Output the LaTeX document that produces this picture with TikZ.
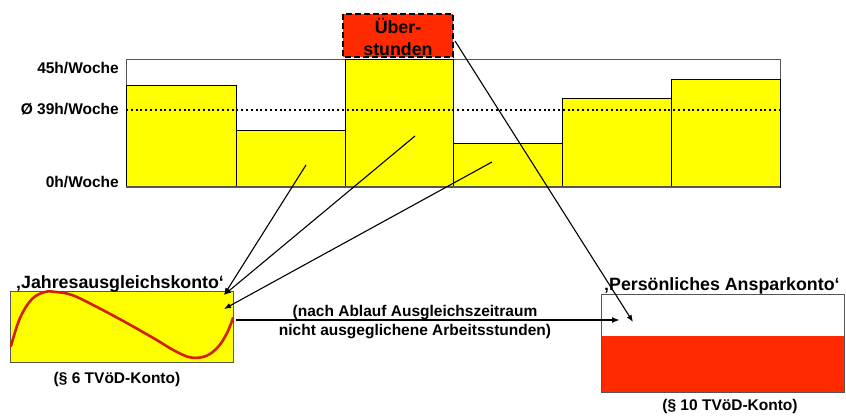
\documentclass[tikz,border=0pt]{standalone}
\usepackage{fontspec}
\setmainfont{Liberation Sans}
\usetikzlibrary{arrows.meta}
\definecolor{barY}{HTML}{FFFF00}
\definecolor{ueRed}{HTML}{FF2A00}
\definecolor{curveRed}{HTML}{D42000}
\definecolor{frameGray}{HTML}{555555}
\tikzset{
  lbl/.style={inner sep=0pt, font=\fontsize{15.5}{18}\selectfont\bfseries},
  biglbl/.style={inner sep=0pt, font=\fontsize{17.8}{21}\selectfont\bfseries},
  barbox/.style={fill=barY, draw=black, line width=0.8pt},
  conn/.style={line width=1.1pt, -{Latex[length=7pt,width=5.5pt]}},
  thickconn/.style={line width=1.8pt, -{Latex[length=8pt,width=6pt]}},
}
\begin{document}
\begin{tikzpicture}[x=1pt,y=-1pt]
\useasboundingbox[fill=white] (0,0) rectangle (846,415);
% chart frame
\draw[frameGray, line width=0.8pt] (126,59) rectangle (780,187);
% bars
\draw[barbox] (126,85) rectangle (236,187);
\draw[barbox] (236,130) rectangle (345,187);
\draw[barbox] (345,59) rectangle (453,187);
\draw[barbox] (453,143) rectangle (562,187);
\draw[barbox] (562,98) rectangle (671,187);
\draw[barbox] (671,79) rectangle (780,187);
\draw[frameGray, line width=1.2pt] (126,187) -- (780,187);
% average line
\draw[black, line width=2pt, dash pattern=on 2pt off 2.8pt] (126,109.5) -- (780,109.5);
% axis labels
\node[lbl, anchor=east] (l45) at (119,68) {45h/Woche};
\node[lbl, anchor=east] (l39) at (119,109) {Ø 39h/Woche};
\node[lbl, anchor=east] (l0) at (119,182) {0h/Woche};
% Ueberstunden box
\fill[ueRed] (343,14) rectangle (453,57);
\node[biglbl, anchor=base] (ue1) at (398,34) {Über-};
\node[biglbl, anchor=base] (ue2) at (398,55) {stunden};
\draw[black, line width=2pt, dash pattern=on 6pt off 3pt] (343,14) rectangle (453,57);
\coordinate (uestart) at (455,41);
% Jahresausgleichskonto
\node[fill=barY, draw=frameGray, line width=1pt, minimum width=223pt, minimum height=71pt, inner sep=0pt, anchor=north west] (jbox) at (10,291) {};
\draw[curveRed, line width=2.6pt, line cap=round] plot[smooth, tension=0.6] coordinates {
 (11,346) (20,318) (32,299) (45,292) (56,292) (72,295) (95,306) (125,322) (155,339) (175,351) (191,357.5) (206,356) (218,347) (227,333) (233,318)};
\node[biglbl, anchor=base west] (jlabel) at (16,288) {‚Jahresausgleichskonto‘};
\node[lbl, anchor=base] (jpar) at (117,383) {(§ 6 TVöD-Konto)};
% Persoenliches Ansparkonto
\node[fill=white, minimum width=243pt, minimum height=98pt, inner sep=0pt, anchor=north west] (pbox) at (601,294) {};
\fill[ueRed] (601,336) rectangle (844,392);
\draw[frameGray, line width=1pt] (601,294) rectangle (844,392);
\node[biglbl, anchor=base west] (plabel) at (604,290) {‚Persönliches Ansparkonto‘};
\node[lbl, anchor=base] (ppar) at (730,410) {(§ 10 TVöD-Konto)};
% note
\node[lbl, anchor=base] (note1) at (415,316) {(nach Ablauf Ausgleichszeitraum};
\node[lbl, anchor=base] (note2) at (415,335) {nicht ausgeglichene Arbeitsstunden)};
% connector endpoints
\coordinate (a1) at (306,165);
\coordinate (a2) at (415,136);
\coordinate (a3) at (492,162);
\coordinate (j1) at (224,295);
\coordinate (j2) at (224,309);
\coordinate (hs) at (236,320);
\coordinate (ht) at (620,320);
\coordinate (pt) at (633,322);
% connectors
\draw[conn] (a1) -- (j1);
\draw[conn] (a2) -- (j1);
\draw[conn] (a3) -- (j2);
\draw[thickconn] (hs) -- (ht);
\draw[conn] (uestart) -- (pt);
\end{tikzpicture}
\end{document}
